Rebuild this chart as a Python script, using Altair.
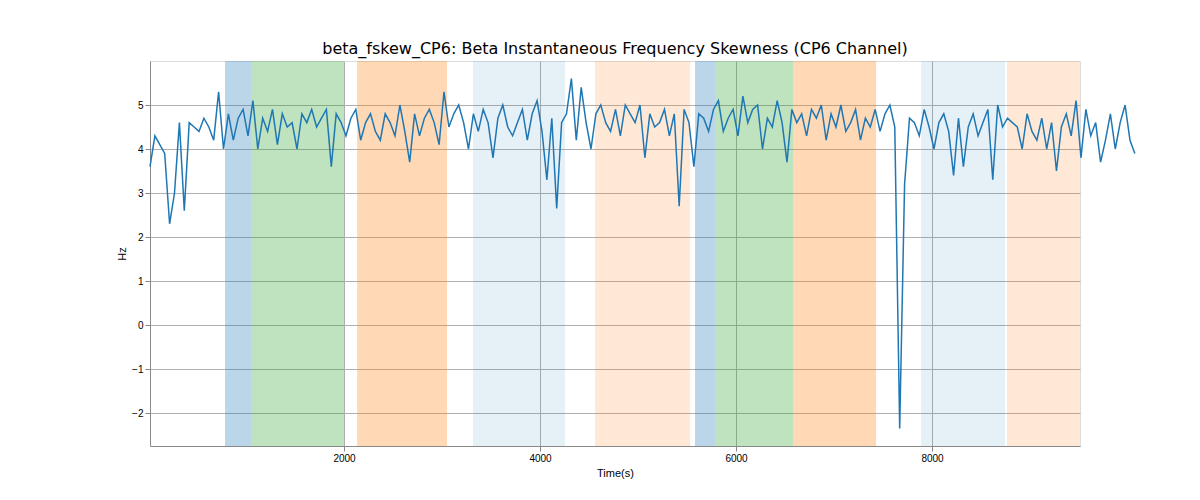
import altair as alt
import pandas as pd

t0, step = 20, 50
values = [
    3.6, 4.3, 4.1, 3.9, 2.3, 3.0, 4.6, 2.6, 4.6, 4.5, 4.4, 4.7, 4.5, 4.2, 5.3, 4.0,
    4.8, 4.2, 4.7, 4.9, 4.3, 5.1, 4.0,
    4.7, 4.4, 4.9, 4.1, 4.8, 4.5, 4.6, 4.0, 4.8, 4.6, 4.9, 4.5, 4.7, 4.9, 3.6, 4.8,
    4.6, 4.3, 4.7, 4.9, 4.2, 4.6, 4.8, 4.4, 4.2, 4.8, 4.6, 4.3, 5.0, 4.4, 3.7, 4.8,
    4.3, 4.7, 4.9, 4.6, 4.1, 5.3, 4.5, 4.8, 5.0, 4.6, 4.0, 4.8, 4.4, 4.9, 4.6, 3.8,
    4.7, 5.0, 4.5, 4.3, 4.6, 4.9, 4.2, 4.8, 5.1, 4.4, 3.3, 4.7, 2.65, 4.6, 4.8, 5.6, 4.2,
    5.4, 4.6, 4.0, 4.8, 5.0, 4.6, 4.4, 4.9, 4.3, 5.0, 4.8, 4.6, 5.0, 3.8, 4.8, 4.5,
    4.6, 4.9, 4.3, 4.8, 2.7, 4.9, 4.6, 3.6, 4.8, 4.7, 4.4, 4.9, 5.1, 4.4, 4.7, 4.9,
    4.3, 5.2, 4.6, 4.9, 5.0, 4.0, 4.7, 4.5, 5.1, 4.6, 3.7, 4.9, 4.6, 4.8, 4.3, 4.9,
    4.7, 5.0, 4.2, 4.8, 4.5, 5.0, 4.4, 4.6, 4.9, 4.2, 4.7, 4.5, 4.9, 4.4, 4.8, 5.0,
    4.5, -2.35, 3.2, 4.7, 4.6, 4.3, 4.9, 4.5, 4.0, 4.6, 4.8, 4.4, 3.4, 4.7, 3.6, 4.5,
    4.8, 4.3, 4.6, 4.9, 3.3, 5.0, 4.5, 4.7, 4.6, 4.5, 4.0, 4.8, 4.4, 4.2, 4.7, 4.0,
    4.6, 3.5, 4.5, 4.8, 4.3, 5.1, 3.8, 4.9, 4.3, 4.6, 3.7, 4.2, 4.8, 4.0, 4.6, 5.0,
    4.2, 3.9,
]
times = [t0 + i * step for i in range(len(values))]

span_start = [786, 1051, 2133, 3316, 4561, 5582, 5786, 6582, 7888, 8765]
span_end = [1051, 2000, 3051, 4255, 5531, 5786, 6582, 7429, 8745, 9510]
span_kind = ["b", "g", "o", "lb", "lo", "b", "g", "o", "lb", "lo"]

kind_color = {"b": "#1f77b4", "g": "#2ca02c", "o": "#ff7f0e", "lb": "#1f77b4", "lo": "#ff7f0e"}
kind_alpha = {"b": 0.3, "g": 0.3, "o": 0.3, "lb": 0.11, "lo": 0.17}

line_df = pd.DataFrame({"t": times, "v": values})
span_df = pd.DataFrame({
    "start": span_start, "end": span_end,
    "color": [kind_color[k] for k in span_kind],
    "alpha": [kind_alpha[k] for k in span_kind],
})

xs = alt.Scale(domain=[20, 9510], nice=False, zero=False)
ys = alt.Scale(domain=[-2.75, 6.0], nice=False, zero=False)

spans = alt.Chart(span_df).mark_rect().encode(
    x=alt.X("start:Q", scale=xs),
    x2="end:Q",
    color=alt.Color("color:N", scale=None),
    opacity=alt.Opacity("alpha:Q", scale=None),
)

line = alt.Chart(line_df).mark_line(color="#1f77b4", strokeWidth=1.5).encode(
    x=alt.X("t:Q", scale=xs, title="Time(s)",
            axis=alt.Axis(values=[2000, 4000, 6000, 8000], format="d", grid=True,
                          gridColor="#b0b0b0", titleFontWeight="normal")),
    y=alt.Y("v:Q", scale=ys, title="Hz",
            axis=alt.Axis(values=[-2, -1, 0, 1, 2, 3, 4, 5], format="d", grid=True,
                          gridColor="#b0b0b0", titleFontWeight="normal")),
)

chart = alt.layer(spans, line).properties(
    width=930, height=385,
    title=alt.Title("beta_fskew_CP6: Beta Instantaneous Frequency Skewness (CP6 Channel)",
                    fontSize=16, fontWeight="normal", font="DejaVu Sans"),
).configure_axis(
    labelFont="DejaVu Sans", titleFont="DejaVu Sans", labelFontSize=12, titleFontSize=12,
    domainColor="black", tickColor="black", labelColor="black",
).configure_view(stroke="black").configure(padding={"left": 108, "top": 33, "right": 10, "bottom": 5})

chart.save("out.html", embed_options={"renderer": "svg", "actions": False})
